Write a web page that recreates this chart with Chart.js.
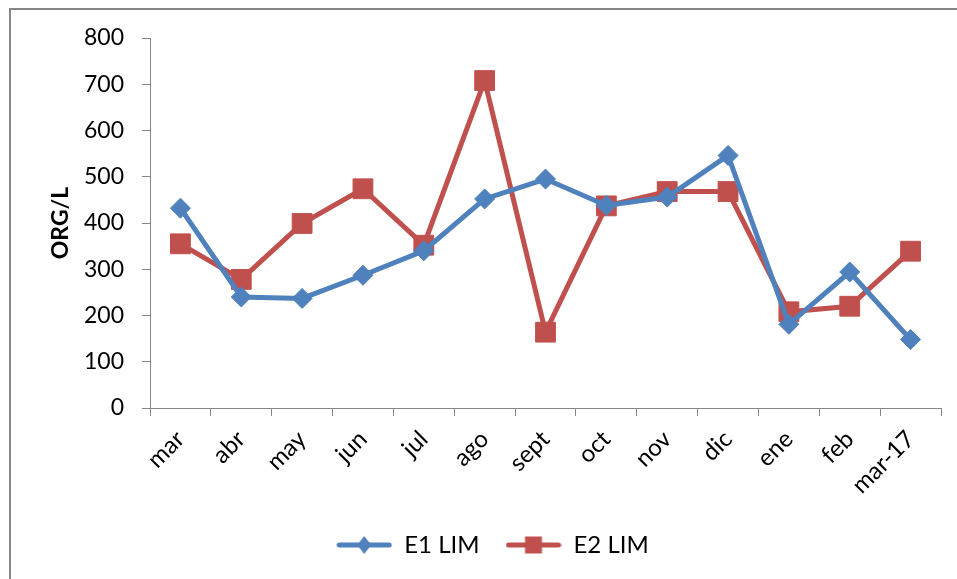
<!DOCTYPE html>
<html>
<head>
<meta charset="utf-8">
<script src="https://cdn.jsdelivr.net/npm/chart.js@4"></script>
<style>
  html, body { margin: 0; padding: 0; background: #fff; }
  canvas { display: block; }
</style>
</head>
<body>
<canvas id="myChart" width="957" height="579"></canvas>
<script>
const months = ["mar", "abr", "may", "jun", "jul", "ago", "sept", "oct", "nov", "dic", "ene", "feb", "mar-17"];
const e1Lim = [432, 240, 237, 287, 340, 452, 495, 438, 456, 546, 181, 294, 148];
const e2Lim = [355, 278, 399, 474, 352, 708, 164, 437, 468, 468, 208, 220, 339];
const yTicks = [0, 100, 200, 300, 400, 500, 600, 700, 800];

const blue = "#4F81BD";
const red = "#C0504D";
const axisGray = "#868686";
const fontFamily = "Lato, 'Open Sans', sans-serif";

// little line + marker swatch for the legend
function legendSwatch(color, marker) {
  const c = document.createElement("canvas");
  c.width = 56;
  c.height = 20;
  const ctx = c.getContext("2d");
  ctx.strokeStyle = color;
  ctx.fillStyle = color;
  ctx.lineWidth = 5;
  ctx.lineCap = "round";
  ctx.beginPath();
  ctx.moveTo(3, 10);
  ctx.lineTo(53, 10);
  ctx.stroke();
  ctx.beginPath();
  if (marker === "diamond") {
    ctx.moveTo(28, 1);
    ctx.lineTo(35, 10);
    ctx.lineTo(28, 19);
    ctx.lineTo(21, 10);
    ctx.closePath();
  } else {
    ctx.rect(19.5, 1.5, 17, 17);
  }
  ctx.fill();
  return c;
}

const frame = {
  id: "frame",
  beforeDraw(chart) {
    const ctx = chart.ctx;
    ctx.save();
    ctx.fillStyle = "#fff";
    ctx.fillRect(0, 0, chart.width, chart.height);
    ctx.strokeStyle = axisGray;
    ctx.lineWidth = 2;
    ctx.strokeRect(10, 9, chart.width + 20, chart.height + 20);
    ctx.restore();
  },
  // nudge the legend a little to the right
  afterLayout(chart) {
    chart.legend.left += 17;
    chart.legend.right += 17;
  }
};

const data = {
  labels: months,
  datasets: [
    {
      label: "E1 LIM",
      data: e1Lim,
      borderColor: blue,
      backgroundColor: blue,
      borderWidth: 5,
      pointStyle: "rectRot",
      pointRadius: 10,
      pointBorderWidth: 1,
      pointBackgroundColor: blue,
      pointBorderColor: blue,
      tension: 0,
      legendSwatch: legendSwatch(blue, "diamond")
    },
    {
      label: "E2 LIM",
      data: e2Lim,
      borderColor: red,
      backgroundColor: red,
      borderWidth: 5,
      pointStyle: "rect",
      pointRadius: 14,
      pointBorderWidth: 1,
      pointBackgroundColor: red,
      pointBorderColor: red,
      tension: 0,
      legendSwatch: legendSwatch(red, "square")
    }
  ]
};

const config = {
  type: "line",
  data: data,
  plugins: [frame],
  options: {
    responsive: false,
    animation: false,
    devicePixelRatio: 1,
    layout: { padding: { left: 10, top: 38, right: 16, bottom: 12 } },
    plugins: {
      tooltip: { enabled: false },
      legend: {
        position: "bottom",
        labels: {
          usePointStyle: true,
          pointStyleWidth: 56,
          padding: 26,
          color: "#000",
          font: { family: fontFamily, size: 24 },
          generateLabels(chart) {
            return chart.data.datasets.map((ds, i) => ({
              text: ds.label,
              pointStyle: ds.legendSwatch,
              fillStyle: ds.borderColor,
              strokeStyle: ds.borderColor,
              lineWidth: 0,
              fontColor: "#000",
              hidden: false,
              datasetIndex: i
            }));
          }
        }
      }
    },
    scales: {
      x: {
        offset: true,
        afterFit(scale) { scale.height = 99; },
        grid: {
          offset: true,
          drawOnChartArea: false,
          drawTicks: true,
          tickLength: 8,
          color: axisGray
        },
        border: { color: axisGray, width: 1 },
        ticks: {
          color: "#000",
          font: { family: fontFamily, size: 24 },
          minRotation: 45,
          maxRotation: 45,
          padding: 9,
          autoSkip: false
        }
      },
      y: {
        min: 0,
        max: 800,
        afterFit(scale) { scale.width = 140; },
        afterBuildTicks(scale) {
          scale.ticks = yTicks.map(v => ({ value: v }));
        },
        grid: {
          drawOnChartArea: false,
          drawTicks: true,
          tickLength: 8,
          color: axisGray
        },
        border: { color: axisGray, width: 1 },
        ticks: {
          color: "#000",
          font: { family: fontFamily, size: 23 },
          padding: 18
        },
        title: {
          display: true,
          text: "ORG/L",
          color: "#000",
          font: { family: fontFamily, size: 23, weight: "bold" },
          padding: { top: 37, bottom: 0 }
        }
      }
    }
  }
};

const myChart = new Chart(document.getElementById("myChart"), config);
</script>
</body>
</html>
